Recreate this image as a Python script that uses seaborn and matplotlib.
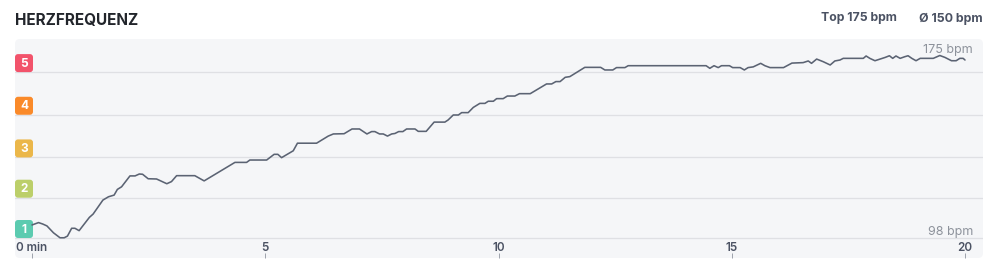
import matplotlib
matplotlib.use("Agg")
import matplotlib.pyplot as plt
import matplotlib.transforms as mtransforms
from matplotlib.patches import FancyBboxPatch
import seaborn as sns
import pandas as pd

# ---------------- data ----------------
minutes = [0.00, 0.14, 0.23, 0.32, 0.46, 0.60, 0.69, 0.76, 0.85, 0.92, 1.01, 1.12,
           1.23, 1.31, 1.42, 1.52, 1.64, 1.76, 1.83, 1.92, 2.10, 2.21, 2.30, 2.37,
           2.49, 2.67, 2.89, 2.99, 3.10, 3.49, 3.69, 4.35, 4.60, 4.67, 5.03, 5.19,
           5.27, 5.35, 5.60, 5.69, 6.10, 6.35, 6.46, 6.69, 6.86, 7.02, 7.18, 7.28,
           7.35, 7.45, 7.53, 7.62, 7.71, 7.78, 7.86, 7.95, 8.03, 8.21, 8.28, 8.45,
           8.62, 8.85, 8.92, 9.03, 9.14, 9.21, 9.35, 9.46, 9.60, 9.71, 9.78, 9.89,
           9.96, 10.10, 10.19, 10.35, 10.45, 10.68, 11.03, 11.14, 11.23, 11.32, 11.43,
           11.53, 11.85, 12.19, 12.28, 12.45, 12.53, 12.71, 12.78, 14.45, 14.53, 14.62,
           14.71, 14.78, 14.95, 15.02, 15.18, 15.27, 15.35, 15.46, 15.62, 15.71, 15.82,
           16.11, 16.29, 16.53, 16.64, 16.71, 16.82, 16.96, 17.11, 17.21, 17.32, 17.39,
           17.82, 17.88, 17.96, 18.07, 18.18, 18.29, 18.38, 18.45, 18.52, 18.61, 18.71,
           18.78, 18.86, 18.95, 19.04, 19.32, 19.46, 19.57, 19.71, 19.81, 19.89, 19.96,
           20.00]
bpm = [103.5, 104.5, 103.9, 103.1, 100.2, 98.1, 98.1, 98.8, 102.1, 102.1, 101.1, 103.9,
       106.7, 108.1, 111.2, 114.0, 115.4, 116.1, 118.5, 119.6, 124.2, 124.2, 125.0, 124.9,
       123.0, 122.9, 120.9, 121.8, 124.3, 124.3, 122.1, 129.9, 129.9, 130.9, 130.9, 133.3,
       133.3, 131.9, 134.8, 138.0, 138.0, 141.0, 141.9, 142.0, 144.0, 144.0, 141.9, 142.9,
       142.9, 141.9, 141.9, 141.0, 141.9, 142.1, 142.9, 142.9, 144.0, 144.0, 143.0, 143.0,
       146.9, 146.9, 147.8, 149.9, 149.9, 150.9, 150.9, 153.1, 154.8, 154.8, 155.7, 155.7,
       156.8, 156.8, 157.9, 157.9, 158.9, 158.9, 163.0, 163.0, 164.0, 164.0, 165.8,
       166.1, 170.0, 170.0, 168.9, 168.9, 169.9, 169.9, 170.7, 170.7, 169.6, 170.7,
       169.9, 170.7, 170.7, 169.9, 169.9, 168.9, 169.9, 170.2, 171.7, 170.7, 169.9,
       169.9, 171.8, 172.0, 172.7, 171.7, 173.5, 172.4, 171.0, 172.7, 173.1, 173.8,
       173.8, 174.8, 173.8, 172.8, 173.5, 174.2, 174.9, 173.8, 174.8, 173.8, 174.5,
       174.9, 173.8, 172.8, 173.8, 173.8, 175.0, 174.2, 172.8, 172.8, 173.8, 173.8,
       173.1]

zone_labels = ["1", "2", "3", "4", "5"]
zone_bounds = [98, 115, 132, 150, 168]
zone_colors = ["#5ccbb0", "#bccf6a", "#ebb74a", "#fa8a2a", "#f2536b"]

tick_values = [0, 5, 10, 15, 20]
tick_labels = ["0 min", "5", "10", "15", "20"]

title_text = "HERZFREQUENZ"
top_text = "Top 175 bpm"
avg_text = "Ø 150 bpm"
max_label = "175 bpm"
min_label = "98 bpm"

# ---------------- style ----------------
sns.set_theme(style="white")
plt.rcParams["font.family"] = ["Inter", "DejaVu Sans"]

W, H = 997, 278
DPI = 100
PT = 72 / DPI  # points per pixel

fig = plt.figure(figsize=(W / DPI, H / DPI), dpi=DPI)
fig.patch.set_facecolor("white")

# axes spans the grey panel: x 15..983 px, y 39..258 px (from top)
ax_l, ax_r, ax_t, ax_b = 15, 983, 39, 258
ax = fig.add_axes([ax_l / W, (H - ax_b) / H, (ax_r - ax_l) / W, (ax_b - ax_t) / H])
ax_w_px = ax_r - ax_l
ax_h_px = ax_b - ax_t

px_per_min = 46.65
px_per_bpm = 2.37
x0_px = 32  # x pixel of minute 0
ax.set_xlim((ax_l - x0_px) / px_per_min, (ax_r - x0_px) / px_per_min)
y_base_px = 238  # pixel of 98 bpm
ax.set_ylim(98 - (ax_b - y_base_px) / px_per_bpm, 98 + (y_base_px - ax_t) / px_per_bpm)

ax.patch.set_visible(False)
for s in ax.spines.values():
    s.set_visible(False)

# rounded grey panel
r = 5
panel = FancyBboxPatch((0, 0), 1, 1,
                       boxstyle=f"round,pad=0,rounding_size={r / ax_w_px}",
                       mutation_aspect=ax_w_px / ax_h_px,
                       transform=ax.transAxes, facecolor="#f5f6f8",
                       edgecolor="none", zorder=0, clip_on=False)
ax.add_patch(panel)

# zone grid lines
for b in zone_bounds:
    ax.axhline(b, color="#dfe0e4", lw=1.3 * PT, zorder=1)

# zone badges
blend = mtransforms.blended_transform_factory(ax.transAxes, ax.transData)
badge_w = 18 / ax_w_px
badge_h = 18 / px_per_bpm
for lab, b, c in zip(zone_labels, zone_bounds, zone_colors):
    rr = 3
    p = FancyBboxPatch((0, b), badge_w, badge_h,
                       boxstyle=f"round,pad=0,rounding_size={rr / ax_w_px}",
                       mutation_aspect=(rr / px_per_bpm) / (rr / ax_w_px),
                       transform=blend, facecolor=c, edgecolor="none", zorder=2)
    ax.add_patch(p)
    ax.text(badge_w / 2, b + badge_h / 2 - 0.3, lab, transform=blend, ha="center",
            va="center", color="white", fontsize=8.5, fontweight="bold", zorder=3)

# heart-rate line
df = pd.DataFrame({"min": minutes, "bpm": bpm})
sns.lineplot(data=df, x="min", y="bpm", ax=ax, color="#5b6373", lw=1.6 * PT,
             zorder=4, sort=False)
ax.set_xlabel("")
ax.set_ylabel("")

# ticks
ax.set_yticks([])
ax.set_xticks(tick_values)
ax.set_xticklabels(tick_labels)
ax.tick_params(axis="x", direction="in", length=5 * PT, width=1.0 * PT,
               color="#a0a5ae", pad=-16 * PT, labelsize=8.4,
               labelcolor="#4b5263", bottom=True)
for t in ax.get_xticklabels():
    t.set_fontweight("semibold")

# min/max labels
lbl_x = (973 - ax_l) / ax_w_px
ax.text(lbl_x, 98 + (y_base_px - 50) / px_per_bpm, max_label, transform=blend,
        ha="right", va="center", color="#8d929b", fontsize=9, zorder=5)
ax.text(lbl_x, 98 + (y_base_px - 232) / px_per_bpm, min_label, transform=blend,
        ha="right", va="center", color="#8d929b", fontsize=9, zorder=5)

# header
fig.text(15 / W, 1 - 20 / H, title_text, ha="left", va="center",
         fontsize=11, fontweight="bold", color="#22252b")
fig.text(983 / W, 1 - 18.5 / H, avg_text, ha="right", va="center",
         fontsize=8.9, fontweight="bold", color="#4b5263")
fig.text(897 / W, 1 - 18.5 / H, top_text, ha="right", va="center",
         fontsize=8.8, fontweight="bold", color="#4b5263")

fig.savefig("out.png", dpi=DPI, facecolor="white")
